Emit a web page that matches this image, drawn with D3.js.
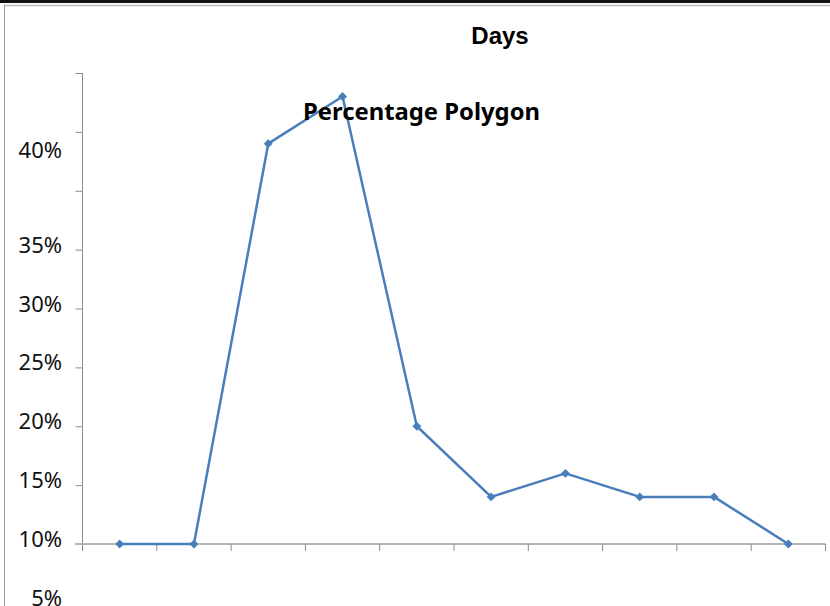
<!DOCTYPE html>
<html><head><meta charset="utf-8">
<script src="https://cdn.jsdelivr.net/npm/d3@7"></script>
<style>html,body{margin:0;padding:0;background:#fff;}svg{display:block;}</style>
</head><body>
<div id="chart"></div>
<script>
// Data
const categories = ["1","2","3","4","5","6","7","8","9","10"];
const percentages = [10, 10, 44, 48, 20, 14, 16, 14, 14, 10];
const yTickValues = [10, 15, 20, 25, 30, 35, 40, 45, 50];
const yLabelTexts = ["5%","10%","15%","20%","25%","30%","35%","40%"];
const yLabelValues = [5, 10, 15, 20, 25, 30, 35, 43.0];
const chartTitle = "Days";
const chartSubtitle = "Percentage Polygon";

const W = 830, H = 606;
const svg = d3.select("#chart").append("svg").attr("width", W).attr("height", H);

// frame
svg.append("rect").attr("x",0).attr("y",0).attr("width",W).attr("height",3).attr("fill","#111");
svg.append("line").attr("x1",4).attr("x2",W).attr("y1",5.5).attr("y2",5.5).attr("stroke","#bdbdbd").attr("stroke-width",1.5);
svg.append("line").attr("x1",4.5).attr("x2",4.5).attr("y1",5).attr("y2",H).attr("stroke","#9a9a9a").attr("stroke-width",1);

const left = 82.5, right = 825.5;
const x = d3.scaleBand().domain(categories).range([left, right]);
const y = d3.scaleLinear().domain([10, 50]).range([544, 73]);

// y axis
const yAxis = d3.axisLeft(y).tickValues(yTickValues).tickSize(7).tickFormat("");
const gy = svg.append("g").attr("transform", `translate(${left},0)`).call(yAxis);
gy.select(".domain").attr("d", `M0,${y(50)}V${y(10)+7}`).attr("stroke","#8c8c8c").attr("stroke-width",1);
gy.selectAll(".tick line").attr("stroke","#8c8c8c").attr("stroke-width",1);

// y labels (as drawn in reference)
svg.append("g").selectAll("text").data(yLabelValues).join("text")
  .attr("x", 62).attr("y", d => y(d) - 6)
  .attr("text-anchor","end").attr("dominant-baseline","central")
  .attr("font-family","'Noto Sans', 'Open Sans', sans-serif").attr("font-size", 22)
  .attr("fill","#111")
  .text((d,i) => yLabelTexts[i]);

// x axis
const xAxis = d3.axisBottom(x).tickValues([]).tickSize(0);
const gx = svg.append("g").attr("transform", `translate(0,${y(10)})`).call(xAxis);
gx.select(".domain").attr("d", `M75,0H${right}`).attr("stroke","#b5b5b5").attr("stroke-width",2);
const bounds = categories.map(c => x(c)).concat([right]);
gx.selectAll("line.tk").data(bounds).join("line").attr("class","tk")
  .attr("x1", d => d).attr("x2", d => d).attr("y1", 0).attr("y2", 7)
  .attr("stroke","#8c8c8c").attr("stroke-width",1);

// line
const cx = d => x(d) + x.bandwidth()/2;
const line = d3.line().x((d,i) => cx(categories[i])).y(d => y(d));
svg.append("path").datum(percentages).attr("d", line)
  .attr("fill","none").attr("stroke","#4a7ebb").attr("stroke-width",2.5).attr("stroke-linejoin","round");
svg.append("g").selectAll("path").data(percentages).join("path")
  .attr("d", d3.symbol().type(d3.symbolDiamond2).size(50))
  .attr("transform", (d,i) => `translate(${cx(categories[i])},${y(d)})`)
  .attr("fill","#4a7ebb");

// titles
svg.append("text").attr("x", 500).attr("y", 44).attr("text-anchor","middle")
  .attr("font-family","'Liberation Sans', Arial, sans-serif").attr("font-weight","bold").attr("font-size", 24)
  .attr("fill","#000").text(chartTitle);
svg.append("text").attr("x", 303).attr("y", 120)
  .attr("font-family","'Noto Sans', 'Open Sans', sans-serif").attr("font-weight","bold").attr("font-size", 24)
  .attr("textLength", 237).attr("lengthAdjust","spacingAndGlyphs")
  .attr("fill","#000").text(chartSubtitle);
</script>
</body></html>
